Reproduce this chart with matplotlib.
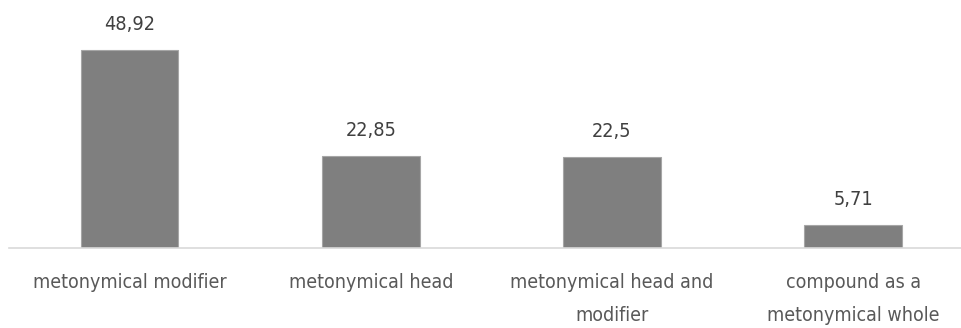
import matplotlib
matplotlib.use("Agg")
import matplotlib.pyplot as plt

categories = ["metonymical modifier", "metonymical head",
              "metonymical head and\nmodifier", "compound as a\nmetonymical whole"]
values = [48.92, 22.85, 22.5, 5.71]
value_labels = ["48,92", "22,85", "22,5", "5,71"]

plt.rcParams['font.family'] = ['DejaVu Sans']
plt.rcParams['font.stretch'] = 'condensed'

fig = plt.figure(figsize=(9.62, 3.28), dpi=100)
ax = fig.add_axes([9 / 962, (328 - 248.3) / 328, 953 / 962, 248.3 / 328])

x = range(len(values))
bars = ax.bar(x, values, width=0.405, color="#7f7f7f", edgecolor="#a6a6a6", linewidth=0.8)

for b, lab in zip(bars, value_labels):
    ax.text(b.get_x() + b.get_width() / 2, b.get_height() + 4.0, lab,
            ha="center", va="bottom", fontsize=14.2, color="#404040", stretch="condensed")

ax.set_xlim(-0.5, 953 / 241.2 - 0.5)
ax.set_ylim(0, 248.3 / 4.05)
ax.set_xticks(list(x))
ax.set_xticklabels(categories, fontsize=14, color="#595959", linespacing=1.9, stretch="condensed")
ax.tick_params(axis="x", length=0, pad=18)
ax.set_yticks([])
for s in ["top", "right", "left"]:
    ax.spines[s].set_visible(False)
ax.spines["bottom"].set_color("#d9d9d9")
ax.spines["bottom"].set_linewidth(1.2)

fig.savefig("out.png", dpi=100)
